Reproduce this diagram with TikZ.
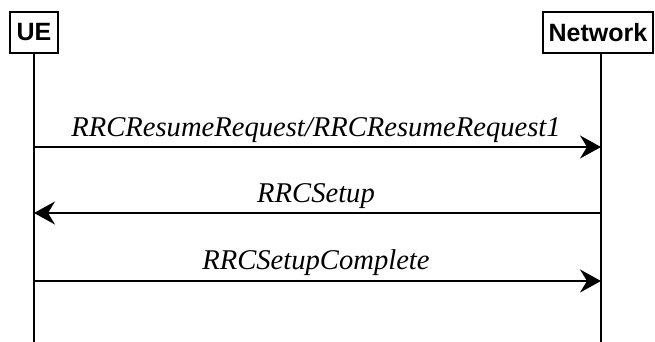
\documentclass[tikz,border=0pt]{standalone}
\usepackage{fontspec}
\setmainfont{Liberation Serif}[ItalicFont={Liberation Serif Italic}]
\setsansfont{Liberation Sans}[BoldFont={Liberation Sans Bold}]
\newfontfamily\lblfont{Liberation Serif Italic}
\usetikzlibrary{arrows.meta}
\begin{document}
\begin{tikzpicture}[x=1pt,y=-1pt,
  entity/.style={draw,line width=1.5pt,font=\fontsize{25}{30}\selectfont\sffamily\bfseries,inner sep=0pt,minimum height=41pt},
  life/.style={line width=1.5pt},
  msg/.style={line width=1.5pt,-{Stealth[length=21pt,width=23pt,inset=7pt]}},
  lbl/.style={font=\fontsize{28.6}{34}\selectfont\lblfont,anchor=base,inner sep=0pt}]
\useasboundingbox (0,0) rectangle (655,342);
\node[entity,minimum width=48pt] (ue) at (34,32.5) {UE};
\node[entity,minimum width=110pt] (nw) at (598,32.5) {Network};
\coordinate (ueTop) at (34,53);
\coordinate (ueBot) at (34,342);
\coordinate (nwTop) at (601,53);
\coordinate (nwBot) at (601,342);
\draw[life] (ueTop) -- (ueBot);
\draw[life] (nwTop) -- (nwBot);
\coordinate (u1) at (34,147);
\coordinate (n1) at (601,147);
\coordinate (u2) at (34,213);
\coordinate (n2) at (601,213);
\coordinate (u3) at (34,281);
\coordinate (n3) at (601,281);
\draw[msg] (u1) -- (n1);
\draw[msg] (n2) -- (u2);
\draw[msg] (u3) -- (n3);
\node[lbl] (l1) at (316,136) {RRCResumeRequest/RRCResumeRequest1};
\node[lbl] (l2) at (316,202) {RRCSetup};
\node[lbl] (l3) at (316,269) {RRCSetupComplete};
\end{tikzpicture}
\end{document}
